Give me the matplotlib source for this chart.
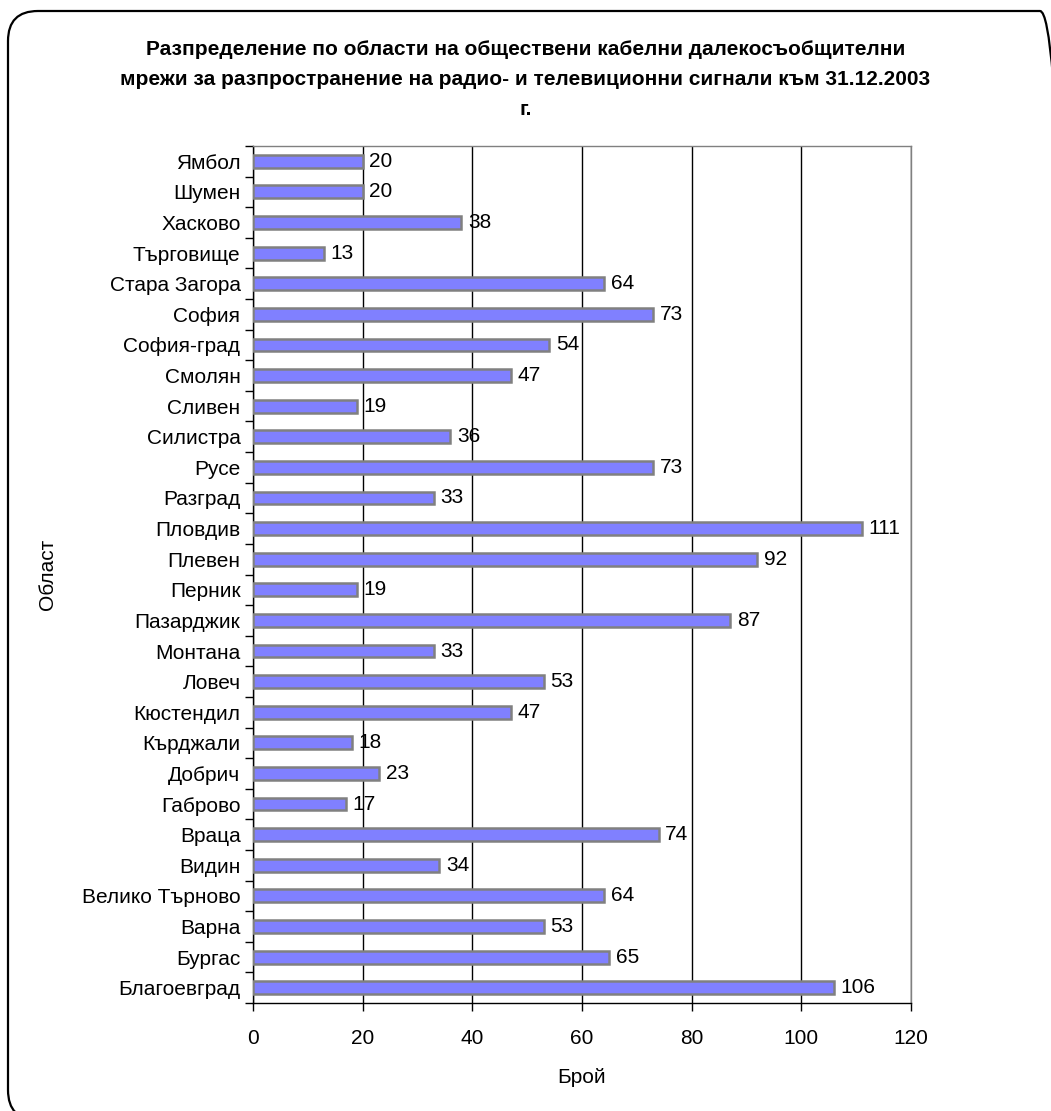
import matplotlib
matplotlib.use("Agg")
import matplotlib.pyplot as plt
from matplotlib.patches import FancyBboxPatch
from matplotlib.transforms import IdentityTransform

plt.rcParams['font.family'] = ['Liberation Sans', 'DejaVu Sans']

regions = ["Благоевград", "Бургас", "Варна", "Велико Търново", "Видин", "Враца",
           "Габрово", "Добрич", "Кърджали", "Кюстендил", "Ловеч", "Монтана",
           "Пазарджик", "Перник", "Плевен", "Пловдив", "Разград", "Русе",
           "Силистра", "Сливен", "Смолян", "София-град", "София", "Стара Загора",
           "Търговище", "Хасково", "Шумен", "Ямбол"]
counts = [106, 65, 53, 64, 34, 74, 17, 23, 18, 47, 53, 33, 87, 19, 92, 111,
          33, 73, 36, 19, 47, 54, 73, 64, 13, 38, 20, 20]
x_ticks = [0, 20, 40, 60, 80, 100, 120]

title = ("Разпределение по области на обществени кабелни далекосъобщителни\n"
         "мрежи за разпространение на радио- и телевиционни сигнали към 31.12.2003\n"
         "г.")

W, H = 1051, 1111
fig = plt.figure(figsize=(W / 100, H / 100), dpi=100)

# rounded frame around the whole chart (pixel coordinates, origin bottom-left)
fx0, fy_top, fx1, fy_bot = 8, 11, 1070, 1120
frame = FancyBboxPatch((fx0, H - fy_bot), fx1 - fx0, fy_bot - fy_top,
                       boxstyle="round,pad=0,rounding_size=30",
                       transform=IdentityTransform(), facecolor="none",
                       edgecolor="black", linewidth=1.6)
fig.patches.append(frame)

left, right, top, bottom = 253, 911, 146, 1003
ax = fig.add_axes([left / W, 1 - bottom / H, (right - left) / W, (bottom - top) / H])

ypos = list(range(len(regions)))
ax.barh(ypos, counts, height=0.42, color="#8080FF", edgecolor="#808080",
        linewidth=1.8, zorder=3)
for y, v in zip(ypos, counts):
    ax.text(v + 1.2, y, str(v), va="center", ha="left", fontsize=15, zorder=4)

ax.set_xlim(0, 120)
ax.set_ylim(-0.5, len(regions) - 0.5)
ax.set_xticks(x_ticks)
ax.set_xticklabels([str(t) for t in x_ticks], fontsize=15)
ax.set_yticks(ypos)
ax.set_yticklabels(regions, fontsize=15)
ax.tick_params(axis="y", length=0, pad=9)
ax.set_yticks([i - 0.5 for i in range(len(regions) + 1)], minor=True)
ax.tick_params(axis="y", which="minor", length=6, width=1, color="black")
ax.tick_params(axis="x", length=6, width=1, pad=13)
ax.xaxis.grid(True, color="black", linewidth=1, zorder=0)
for s in ax.spines.values():
    s.set_linewidth(1)
    s.set_color("black")
ax.spines["top"].set_color("#808080")
ax.spines["right"].set_color("#808080")

ax.set_xlabel("Брой", fontsize=15, labelpad=14)
ax.set_ylabel("Област", fontsize=15, labelpad=18)

fig.text(0.5, 1 - 40 / H, title, ha="center", va="top", fontsize=15,
         fontweight="bold", linespacing=1.72)

fig.savefig("out.png", dpi=100)
